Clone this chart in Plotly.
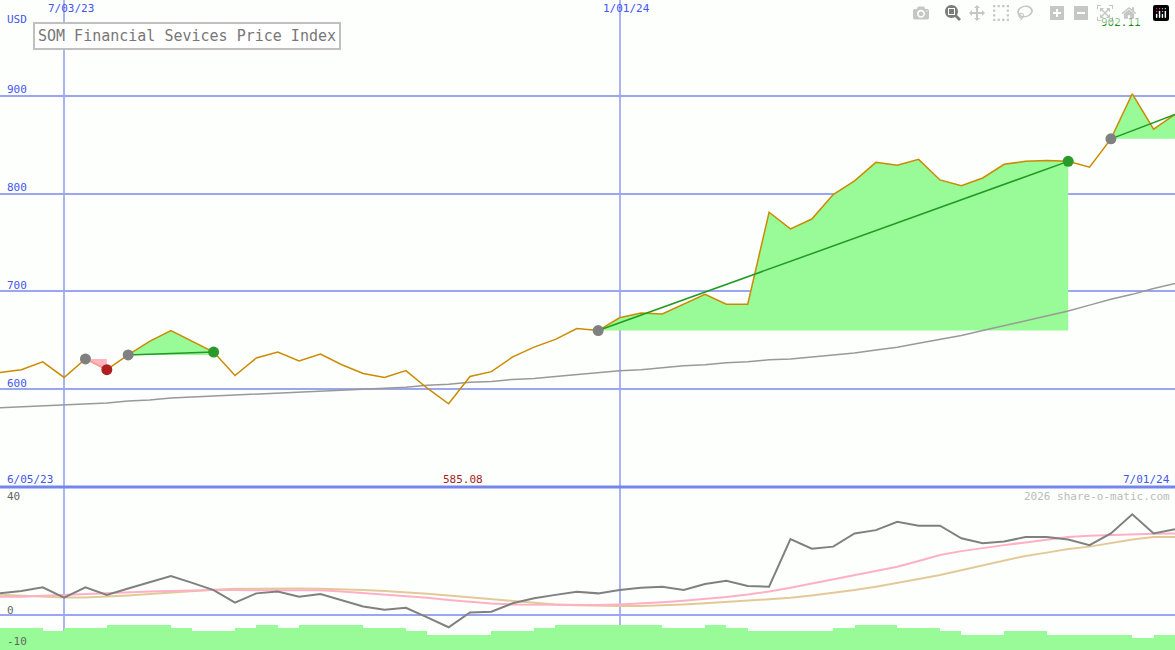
import plotly.graph_objects as go
import pandas as pd

dates = pd.date_range("2023-06-12", periods=56, freq="7D")

price = [617,620,628,612,631,620,635,649,660,649,
         638,614,632,638,629,636,625,616,612,619,
         601,585.08,613,618,633,643,651,662,660,673,
         678,677,687,697,687,687,781,764,774,799,
         813,832,829,835,814,808,816,830,833,834,
         833,827,856,902.11,866,881]
ma_main = [581,582,583,584,585,586,588,589,591,592,
           593,594,595,596,597,598,599,600,601,602,
           604,605,607,608,610,611,613,615,617,619,
           620,622,624,625,627,628,630,631,633,635,
           637,640,643,647,651,655,660,665,670,675,
           680,686,692,697,703,708]
osc = [7.2,8.0,9.2,5.8,9.2,6.7,8.8,11.0,13.0,10.7,
       8.3,4.1,7.2,7.8,6.1,7.0,5.0,2.8,1.7,2.4,
       -0.8,-4.1,0.8,1.1,3.9,5.6,6.7,7.7,7.2,8.3,
       9.1,9.4,8.3,10.3,11.4,9.7,9.4,25.3,22.1,22.8,
       27.2,28.3,31.1,29.8,29.8,25.6,23.9,24.5,26.0,26.0,
       25.2,23.3,27.2,33.6,27.2,28.6]
osc_pink = [6.1,6.1,6.4,6.7,7.0,7.4,7.6,7.8,8.0,8.2,
            8.3,8.3,8.3,8.3,8.3,8.2,7.8,7.3,6.8,6.3,
            5.7,5.0,4.4,3.8,3.5,3.4,3.3,3.3,3.3,3.5,
            3.8,4.2,4.7,5.3,6.0,6.8,7.8,9.1,10.5,11.9,
            13.3,14.7,16.1,18.0,20.0,21.3,22.4,23.3,24.2,25.1,
            26.0,26.4,26.7,27.0,27.1,27.2]
osc_tan = [6.7,6.4,6.1,5.8,5.8,6.1,6.5,7.0,7.5,8.0,
           8.4,8.7,8.8,8.8,8.8,8.7,8.6,8.3,8.0,7.6,
           7.1,6.5,5.9,5.2,4.6,4.0,3.5,3.2,3.0,3.0,
           3.0,3.2,3.5,3.9,4.3,4.7,5.1,5.7,6.5,7.3,
           8.3,9.4,10.6,12.0,13.3,14.9,16.5,18.2,19.7,20.8,
           22.0,22.8,24.0,25.2,26.0,26.0]
hist = [-4.3,-4.3,-5.2,-4.3,-4.3,-3.3,-3.3,-3.3,-4.3,-5.2,
        -5.2,-4.3,-3.3,-4.3,-3.3,-3.3,-3.3,-4.3,-4.3,-5.2,
        -6.7,-6.7,-6.7,-5.2,-5.2,-4.3,-3.3,-3.3,-3.3,-3.3,
        -3.3,-4.3,-4.3,-3.3,-4.3,-5.2,-5.2,-5.2,-5.2,-4.3,
        -3.3,-3.3,-4.3,-4.3,-5.2,-6.7,-6.7,-5.2,-5.2,-6.7,
        -6.7,-6.7,-6.7,-7.7,-6.7,-6.7]

# trades: (entry index, exit index, kind)
trades = [(4, 5, "loss"), (6, 10, "win"), (28, 50, "win"), (52, 55, "open")]
grey_pts = [4, 6, 28, 52]
red_pts = [5]
green_pts = [10, 50]

GRID = "#9aa6f2"
SPLIT = (650 - 487) / 650
FONT = "DejaVu Sans Mono"

fig = go.Figure()

for a, b, kind in trades:
    xs = list(dates[a:b + 1])
    base = [price[a]] * len(xs)
    col = "#ffb6c1" if kind == "loss" else "#98fb98"
    fig.add_trace(go.Scatter(x=xs, y=base, mode="lines", line=dict(width=0),
                             hoverinfo="skip", showlegend=False, xaxis="x", yaxis="y"))
    fig.add_trace(go.Scatter(x=xs, y=price[a:b + 1], mode="lines", line=dict(width=0),
                             fill="tonexty", fillcolor=col, hoverinfo="skip",
                             showlegend=False, xaxis="x", yaxis="y"))

fig.add_trace(go.Scatter(x=dates, y=ma_main, mode="lines",
                         line=dict(color="#999999", width=1.5), showlegend=False))
fig.add_trace(go.Scatter(x=dates, y=price, mode="lines",
                         line=dict(color="#cc8a00", width=1.5), showlegend=False))

for a, b, kind in trades:
    col = "#ff9fb0" if kind == "loss" else "#229922"
    fig.add_trace(go.Scatter(x=[dates[a], dates[b]], y=[price[a], price[b]], mode="lines",
                             line=dict(color=col, width=1.5), showlegend=False))

for idx, col in ((grey_pts, "#808080"), (red_pts, "#b02020"), (green_pts, "#2a9a2a")):
    fig.add_trace(go.Scatter(x=[dates[i] for i in idx], y=[price[i] for i in idx],
                             mode="markers", marker=dict(color=col, size=11,
                             line=dict(color=col, width=0)), showlegend=False))

fig.add_trace(go.Bar(x=dates, y=[h + 12 for h in hist], base=-12, offset=0,
                     width=7 * 86400000, marker=dict(color="#98fb98", line=dict(width=0)),
                     showlegend=False, xaxis="x2", yaxis="y2"))
fig.add_trace(go.Scatter(x=dates, y=osc_tan, mode="lines", line=dict(color="#e3c99a", width=2),
                         showlegend=False, xaxis="x2", yaxis="y2"))
fig.add_trace(go.Scatter(x=dates, y=osc_pink, mode="lines", line=dict(color="#ffb0c4", width=2),
                         showlegend=False, xaxis="x2", yaxis="y2"))
fig.add_trace(go.Scatter(x=dates, y=osc, mode="lines", line=dict(color="#808080", width=2),
                         showlegend=False, xaxis="x2", yaxis="y2"))

xr = [dates[0], dates[-1]]
vt = ["2023-07-03", "2024-01-01"]
fig.update_layout(
    width=1175, height=650, margin=dict(l=0, r=0, t=0, b=0),
    paper_bgcolor="#fcfffc", plot_bgcolor="#fcfffc", bargap=0,
    font=dict(family=FONT, size=11),
    xaxis=dict(range=xr, domain=[0, 1], anchor="y", tickvals=vt, showticklabels=False,
               showgrid=True, gridcolor="#aab4f4", gridwidth=1.5, zeroline=False, ticks=""),
    yaxis=dict(range=[500, 998], domain=[SPLIT, 1], tickvals=[600, 700, 800, 900],
               showticklabels=False, gridcolor=GRID, gridwidth=2, zeroline=False),
    xaxis2=dict(range=xr, domain=[0, 1], anchor="y2", tickvals=vt, showticklabels=False,
                showgrid=True, gridcolor="#aab4f4", gridwidth=1.5, zeroline=False),
    yaxis2=dict(range=[-11.7, 42.7], domain=[0, SPLIT], tickvals=[0], showticklabels=False,
                gridcolor=GRID, gridwidth=2, zeroline=False),
)
fig.add_shape(type="line", xref="paper", yref="paper", x0=0, x1=1, y0=SPLIT, y1=SPLIT,
              line=dict(color="#7486ee", width=3))

def txt(x, y, s, color, size=11, anchor="left"):
    fig.add_annotation(xref="paper", yref="paper", x=x / 1175, y=1 - y / 650, text=s,
                       showarrow=False, xanchor=anchor, yanchor="middle",
                       font=dict(family=FONT, size=size, color=color))

BLUE = "#4455ee"
txt(46, 9, "7/03/23", BLUE)
txt(601, 9, "1/01/24", BLUE)
txt(5, 19, "USD", BLUE)
for v, yy in ((900, 90), (800, 188), (700, 285), (600, 383)):
    txt(5, yy, str(v), BLUE)
txt(1143, 22, "902.11", "#228822", anchor="right")
txt(5, 479, "6/05/23", BLUE)
txt(441, 479, "585.08", "#aa2222")
txt(1172, 479, "7/01/24", BLUE, anchor="right")
txt(1172, 496, "2026 share-o-matic.com", "#bbbbbb", anchor="right")
txt(5, 496, "40", "#666666")
txt(5, 610, "0", "#666666")
txt(5, 641, "-10", "#666666")

fig.add_annotation(xref="paper", yref="paper", x=33 / 1175, y=1 - 36 / 650,
                   text="SOM Financial Sevices Price Index", showarrow=False,
                   xanchor="left", yanchor="middle", bgcolor="#ffffff",
                   bordercolor="#c0c0c0", borderwidth=2, borderpad=3,
                   font=dict(family=FONT, size=15, color="#777777"))

fig.write_html("out.html",
               post_script="document.body.style.margin='0';document.body.style.padding='0';")
